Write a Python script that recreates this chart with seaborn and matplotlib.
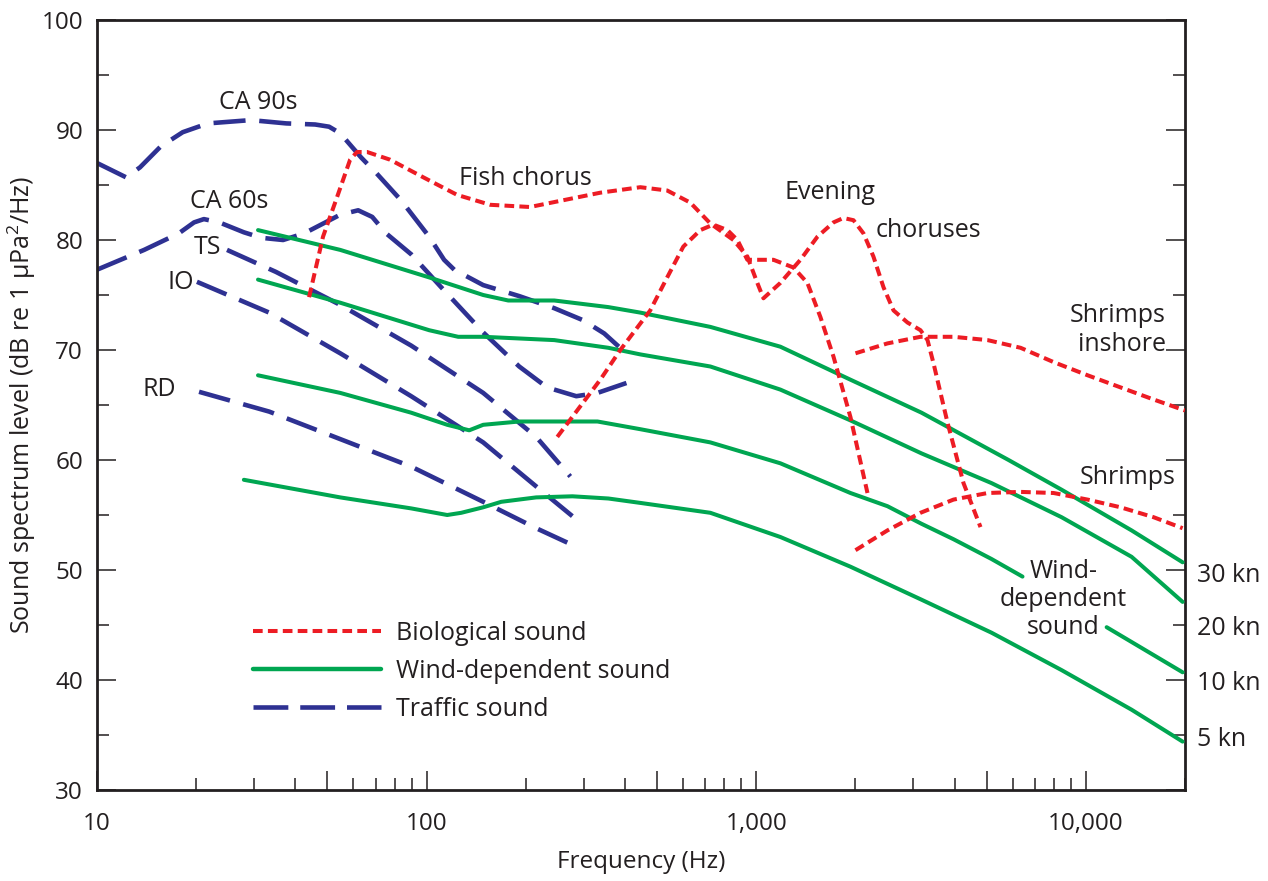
import matplotlib
matplotlib.use("Agg")
import matplotlib.pyplot as plt
from matplotlib.lines import Line2D
from matplotlib.ticker import FixedLocator, FixedFormatter, NullFormatter
import seaborn as sns

# ---- Traffic sound (shipping noise), frequency in Hz, level in dB ----
ca90_f = [10, 12.25, 13.5, 15.6, 18.2, 21.7, 29.3, 37.5, 45.9, 50.6, 54.7, 63.3, 70.3,
          83.7, 101.8, 113, 121.3, 148.5, 191, 244, 298.8, 346, 393]
ca90_db = [87.0, 85.7, 86.6, 88.5, 89.8, 90.6, 90.9, 90.6, 90.5, 90.3, 89.7, 87.5, 86.1,
           83.6, 80.3, 78.2, 77.3, 75.9, 74.9, 73.8, 72.7, 71.5, 70.0]
ca60_f = [10, 13.9, 17.7, 19.7, 21.1, 23.5, 27.9, 31.5, 36.7, 42.5, 54.7, 62.0, 68.4,
          75.4, 89.8, 110, 148.5, 191, 232, 284.6, 330, 404]
ca60_db = [77.3, 79.1, 80.6, 81.6, 81.9, 81.6, 80.7, 80.2, 80.0, 80.6, 82.3, 82.7, 82.1,
           80.6, 78.7, 75.8, 71.6, 68.5, 66.6, 65.8, 66.1, 67.0]
ts_f = [24.8, 34.9, 54.7, 89.8, 148.5, 215, 273]
ts_db = [79.1, 77.1, 74.1, 70.4, 66.1, 62.1, 58.5]
io_f = [20.1, 33.3, 54.7, 89.8, 148.5, 215, 290]
io_db = [76.2, 73.4, 69.7, 65.8, 61.6, 57.6, 54.4]
rd_f = [20.4, 33.3, 54.7, 89.8, 148.5, 215, 290]
rd_db = [66.2, 64.4, 61.9, 59.4, 56.2, 53.8, 52.0]

# ---- Wind-dependent sound for four wind speeds ----
w30_f = [30.8, 54.7, 101.8, 148.5, 176.9, 244, 356, 445, 726, 1184, 1932, 3174, 5830,
         8444, 13770, 19670]
w30_db = [80.9, 79.1, 76.6, 75.0, 74.5, 74.5, 73.9, 73.4, 72.1, 70.3, 67.3, 64.3, 60.0,
          57.3, 53.6, 50.7]
w20_f = [30.8, 54.7, 101.8, 124.7, 148.5, 244, 356, 445, 726, 1184, 1932, 3174, 5176,
         8444, 13770, 19670]
w20_db = [76.4, 74.3, 71.8, 71.2, 71.2, 70.9, 70.2, 69.6, 68.5, 66.4, 63.6, 60.6, 57.9,
          54.8, 51.2, 47.1]
w10_f = [30.8, 54.7, 89.8, 115.5, 134.7, 148.5, 191, 330, 445, 726, 1184, 1932, 2502,
         3174, 3968, 5176, 6427]
w10_db = [67.7, 66.1, 64.3, 63.2, 62.7, 63.2, 63.5, 63.5, 62.8, 61.6, 59.7, 57.0, 55.8,
          54.2, 52.8, 51.0, 49.4]
w10b_f = [11570, 19670]
w10b_db = [44.8, 40.7]
w5_f = [27.9, 54.7, 89.8, 115.5, 127.4, 148.5, 168.5, 215, 277, 356, 445, 726, 1184,
        1932, 3174, 5176, 8444, 13770, 19670]
w5_db = [58.2, 56.6, 55.6, 55.0, 55.2, 55.7, 56.2, 56.6, 56.7, 56.5, 56.1, 55.2, 53.0,
         50.3, 47.3, 44.3, 40.9, 37.3, 34.4]

# ---- Biological sound ----
fish_f = [44.0, 48.5, 53.5, 58.6, 61.5, 66.0, 77.5, 97.7, 123.8, 156, 206, 336.5, 445,
          537, 631, 726, 853, 940, 1008, 1052, 1184, 1362, 1534, 1716, 1839, 1973, 2116,
          2268, 2434, 2610, 2877, 3151, 3310, 3451, 3806, 4256, 4793]
fish_db = [74.8, 80.3, 83.9, 87.3, 88.0, 88.0, 87.3, 85.7, 84.1, 83.2, 83.0, 84.3, 84.8,
           84.5, 83.4, 81.5, 80.0, 78.5, 76.1, 74.7, 76.1, 78.2, 80.3, 81.6, 82.0, 81.8, 80.6,
           78.5, 75.7, 73.6, 72.5, 71.8, 70.9, 68.8, 63.4, 57.9, 53.9]
eve_f = [249.2, 336.5, 387, 477, 537, 601, 677, 741, 818, 877, 940, 981, 1128, 1297,
         1430, 1566, 1716, 1932, 2176]
eve_db = [62.1, 67.3, 70.0, 73.6, 76.6, 79.4, 80.9, 81.4, 80.9, 80.0, 78.2, 78.2, 78.2,
          77.5, 76.1, 73.0, 69.4, 63.9, 57.0]
shrin_f = [2001, 2502, 3151, 3968, 5036, 6341, 7986, 10130, 12750, 16060, 20000]
shrin_db = [69.7, 70.6, 71.2, 71.2, 70.9, 70.2, 68.9, 67.7, 66.6, 65.5, 64.5]
shr_f = [2001, 2502, 3151, 3968, 5036, 6341, 7986, 10130, 12750, 16060, 19670]
shr_db = [51.8, 53.6, 55.2, 56.4, 57.0, 57.1, 57.0, 56.4, 55.7, 54.8, 53.8]

wind_labels = ["30 kn", "20 kn", "10 kn", "5 kn"]
wind_label_db = [49.5, 44.7, 39.7, 34.6]
legend_labels = ["Biological sound", "Wind-dependent sound", "Traffic sound"]

RED = "#ed1c24"
GREEN = "#00a651"
BLUE = "#2e3192"
INK = "#231f20"

sns.set_theme(style="white")
plt.rcParams["font.family"] = ["Open Sans", "DejaVu Sans"]
plt.rcParams["mathtext.fontset"] = "custom"
plt.rcParams["mathtext.rm"] = "Open Sans"
plt.rcParams["mathtext.it"] = "Open Sans"
plt.rcParams["text.color"] = INK
plt.rcParams["lines.solid_joinstyle"] = "round"
plt.rcParams["lines.dash_joinstyle"] = "round"

fig = plt.figure(figsize=(12.68, 8.81), dpi=100)
ax = fig.add_axes([97 / 1268, 91 / 881, 1088 / 1268, 770 / 881])
ax.set_xscale("log")

blue_dash = (0, (7.0, 3.0))
red_dash = (0, (2.4, 1.3))
blue_style = dict(color=BLUE, lw=3.3, linestyle=blue_dash, zorder=2)
green_style = dict(color=GREEN, lw=2.9, linestyle="-", zorder=3)
red_style = dict(color=RED, lw=2.9, linestyle=red_dash, zorder=4)


def draw(f, db, style):
    sns.lineplot(x=f, y=db, ax=ax, sort=False, estimator=None, **style)


for f, db in [(ca90_f, ca90_db), (ca60_f, ca60_db), (ts_f, ts_db), (io_f, io_db), (rd_f, rd_db)]:
    draw(f, db, blue_style)
for f, db in [(w30_f, w30_db), (w20_f, w20_db), (w10_f, w10_db), (w10b_f, w10b_db), (w5_f, w5_db)]:
    draw(f, db, green_style)
for f, db in [(fish_f, fish_db), (eve_f, eve_db), (shrin_f, shrin_db), (shr_f, shr_db)]:
    draw(f, db, red_style)

ax.set_xlim(10, 20000)
ax.set_ylim(30, 100)

# axes frame and ticks
for s in ax.spines.values():
    s.set_visible(True)
    s.set_color(INK)
    s.set_linewidth(2.0)

ax.xaxis.set_major_locator(FixedLocator([10, 50, 100, 500, 1000, 5000, 10000]))
ax.xaxis.set_major_formatter(FixedFormatter(["10", "", "100", "", "1,000", "", "10,000"]))
minor_x = [m * d for d in (10, 100, 1000) for m in (2, 3, 4, 6, 7, 8, 9)] + [20000]
ax.xaxis.set_minor_locator(FixedLocator(minor_x))
ax.xaxis.set_minor_formatter(NullFormatter())
ax.yaxis.set_major_locator(FixedLocator(list(range(30, 101, 10))))
ax.yaxis.set_minor_locator(FixedLocator(list(range(35, 100, 10))))

ax.tick_params(axis="x", which="both", direction="in", bottom=True, top=False,
               color=INK, width=1.1, labelsize=17.5, labelcolor=INK, pad=16)
ax.tick_params(axis="x", which="major", length=13.5)
ax.tick_params(axis="x", which="minor", length=8.5)
ax.tick_params(axis="y", which="both", direction="in", left=True, right=True,
               color=INK, width=1.1, labelsize=17.5, labelcolor=INK, pad=10)
ax.tick_params(axis="y", which="major", length=14)
ax.tick_params(axis="y", which="minor", length=8.5)

ax.set_xlabel("Frequency (Hz)", fontsize=17.5, color=INK, labelpad=10)
ax.set_ylabel("Sound spectrum level (dB re 1 µPa$^2$/Hz)", fontsize=18, color=INK)
ax.yaxis.set_label_coords(-0.054, 0.5)

# curve annotations
note = dict(fontsize=18, color=INK, ha="center", va="center")
ax.text(30.8, 92.5, "CA 90s", **note)
ax.text(25.2, 83.5, "CA 60s", **note)
ax.text(21.7, 79.3, "TS", **note)
ax.text(17.9, 76.1, "IO", **note)
ax.text(15.5, 66.4, "RD", **note)
ax.text(199, 85.6, "Fish chorus", **note)
ax.text(1680, 84.3, "Evening", **note)
ax.text(3333, 80.9, "choruses", **note)
ax.text(17470, 71.8, "Shrimps\ninshore", fontsize=18, color=INK, ha="right", va="center",
        multialignment="right", linespacing=1.2)
ax.text(13400, 58.45, "Shrimps", **note)
ax.text(8562, 47.3, "Wind-\ndependent\nsound", fontsize=18, color=INK, ha="center",
        va="center", multialignment="center", linespacing=1.15)

trans = ax.get_yaxis_transform()
for lab, yv in zip(wind_labels, wind_label_db):
    ax.text(1.011, yv, lab, transform=trans, fontsize=18, color=INK, ha="left",
            va="center", clip_on=False)

handles = [
    Line2D([], [], color=RED, lw=2.9, linestyle=red_dash),
    Line2D([], [], color=GREEN, lw=3.2, linestyle="-"),
    Line2D([], [], color=BLUE, lw=3.3, linestyle=(0, (7.6, 2.6))),
]
ax.legend(handles, legend_labels, loc="upper left", bbox_to_anchor=(0.1434, 0.220),
          frameon=False, fontsize=18, handlelength=5.1, handletextpad=0.6,
          labelspacing=0.52, borderpad=0, borderaxespad=0)

fig.savefig("out.png", dpi=100)
